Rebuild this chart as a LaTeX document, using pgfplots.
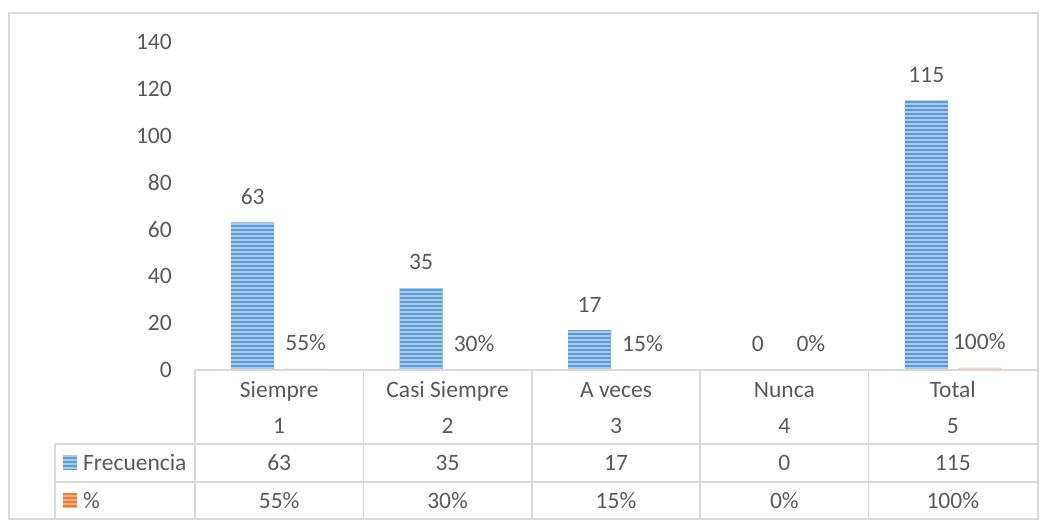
\documentclass[border=0pt]{standalone}
\usepackage{fontspec}
\setmainfont{Carlito}
\usepackage{pgfplots}
\pgfplotsset{compat=1.18}
\usetikzlibrary{patterns.meta}

\definecolor{txt}{HTML}{595959}
\definecolor{gridc}{HTML}{D9D9D9}
\definecolor{blu}{HTML}{5B9BD5}
\definecolor{blulight}{HTML}{A9CAEB}
\definecolor{ora}{HTML}{ED7D31}
\definecolor{oralight}{HTML}{F4B183}
\definecolor{orapale}{HTML}{F6D5C4}
\newcommand{\cf}{\fontsize{23.5bp}{28bp}\selectfont}

\tikzset{
  stripesB/.style={fill=blu, postaction={pattern={Lines[angle=0,distance=4bp,line width=1.1bp]}, pattern color=blulight}},
  stripesO/.style={fill=ora, postaction={pattern={Lines[angle=0,distance=4bp,line width=1.1bp]}, pattern color=oralight}},
  cell/.style={anchor=base, font=\cf, text=txt, inner sep=0pt},
}
\pgfplotsset{/pgf/number format/assume math mode=true}

\begin{document}
\begin{tikzpicture}
\useasboundingbox (0,0) rectangle (1054bp,-524bp);

\begin{axis}[
    at={(195bp,-370bp)}, anchor=south west,
    scale only axis, width=842bp, height=328bp,
    xmin=0.5, xmax=5.5, ymin=0, ymax=140,
    ytick={0,20,...,140}, xtick=\empty,
    axis line style={draw=none},
    major tick length=0pt,
    tick label style={font=\cf, text=txt},
    yticklabel style={inner sep=0pt, xshift=-23bp},
    ybar, bar width=43bp,
    nodes near coords,
    nodes near coords style={font=\cf, text=txt, inner sep=0pt, anchor=south, yshift=17.7bp},
    clip=false,
  ]
  % Frecuencia
  \addplot[draw=none, stripesB, bar shift=-26.5bp] coordinates {
      (1,63) (2,35) (3,17) (4,0) (5,115)
    };
  % %
  \addplot[draw=none, fill=orapale, bar shift=26.5bp, point meta=explicit symbolic] coordinates {
      (1,0.55) [55\%] (2,0.30) [30\%] (3,0.15) [15\%] (4,0) [0\%] (5,1.00) [100\%]
    };
\end{axis}

\begin{scope}[x=1bp, y=-1bp]
  % chart frame
  \draw[gridc, line width=2bp] (9,13) rectangle (1038,519);
  % data table grid
  \begin{scope}[gridc, line width=1.5bp]
    \draw (195,370) -- (1037,370);
    \foreach \x in {195,363.4,531.8,700.2,868.6}
      \draw (\x,370) -- (\x,519);
    \draw (55,444) -- (1037,444) (55,482) -- (1037,482) (55,519) -- (1037,519);
    \draw (55,444) -- (55,519);
  \end{scope}
  % category rows
  \foreach \c/\n/\k in {279.2/Siempre/1, 447.6/Casi Siempre/2, 616.0/A veces/3, 784.4/Nunca/4, 952.8/Total/5} {
    \node[cell] at (\c,397) {\n};
    \node[cell] at (\c,433) {\k};
  }
  % value rows
  \foreach \c/\f/\p in {279.2/63/55\%, 447.6/35/30\%, 616.0/17/15\%, 784.4/0/0\%, 952.8/115/100\%} {
    \node[cell] at (\c,470) {\f};
    \node[cell] at (\c,508) {\p};
  }
  % legend keys
  \fill[stripesB] (63,455) rectangle (77,470);
  \node[cell, anchor=base west] at (83,470) {Frecuencia};
  \fill[stripesO] (63,493) rectangle (77,507);
  \node[cell, anchor=base west] at (83,508) {\%};
\end{scope}
\end{tikzpicture}
\end{document}
